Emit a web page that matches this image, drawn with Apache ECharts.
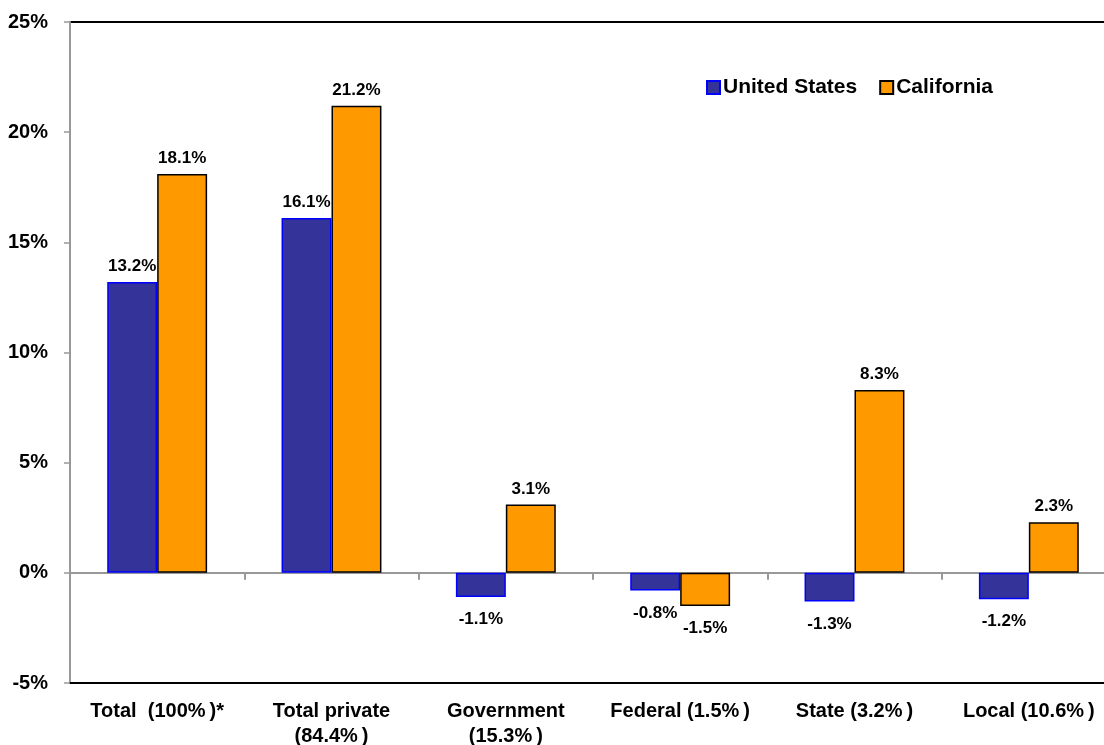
<!DOCTYPE html>
<html>
<head>
<meta charset="utf-8">
<script src="https://cdn.jsdelivr.net/npm/echarts@6/dist/echarts.min.js"></script>
<style>html,body{margin:0;padding:0;background:#fff;}#c{width:1104px;height:745px;}</style>
</head>
<body>
<div id="c"></div>
<script>
var categories = ['Total  (100%\u2009)*', 'Total private\n(84.4%\u2009)', 'Government\n(15.3%\u2009)', 'Federal (1.5%\u2009)', 'State (3.2%\u2009)', 'Local (10.6%\u2009)'];
var seriesNames = ['United States', 'California'];
var usValues = [13.2, 16.1, -1.1, -0.8, -1.3, -1.2];
var caValues = [18.1, 21.2, 3.1, -1.5, 8.3, 2.3];
var yTicks = {min: -5, max: 25, interval: 5};

var FONT = 'Arial, "Liberation Sans", sans-serif';

function toData(arr) {
  return arr.map(function (v) {
    return {value: v, label: {position: v < 0 ? 'bottom' : 'top', distance: v < 0 ? 14 : 7}};
  });
}
var labelCfg = {
  show: true, color: '#000', fontFamily: FONT, fontWeight: 'bold', fontSize: 17,
  formatter: function (p) { return p.value.toFixed(1) + '%'; }
};

var chart = echarts.init(document.getElementById('c'));
chart.setOption({
  animation: false,
  backgroundColor: '#fff',
  grid: {left: 70, width: 1046, top: 22, bottom: 62, containLabel: false, outerBoundsMode: 'none'},
  legend: {
    left: 701, top: 72, itemWidth: 13, itemHeight: 13, itemGap: 22, icon: 'rect',
    textStyle: {fontFamily: FONT, fontWeight: 'bold', fontSize: 21, color: '#000', padding: [0, 0, 0, -2]},
    data: seriesNames
  },
  xAxis: [{
    type: 'category', data: categories, position: 'bottom',
    axisLine: {onZero: false, lineStyle: {color: '#000', width: 2}},
    axisTick: {show: false},
    axisLabel: {interval: 0, fontFamily: FONT, fontWeight: 'bold', fontSize: 20, color: '#000', margin: 16, lineHeight: 25}
  }, {
    type: 'category', data: categories, position: 'top',
    axisLine: {onZero: true, lineStyle: {color: '#999', width: 2}},
    axisTick: {show: true, inside: true, length: 7, lineStyle: {color: '#999', width: 2}},
    axisLabel: {show: false}
  }],
  yAxis: {
    type: 'value', min: yTicks.min, max: yTicks.max, interval: yTicks.interval,
    axisLine: {show: true, lineStyle: {color: '#999', width: 2}},
    axisTick: {show: true, length: 6, lineStyle: {color: '#999', width: 1.5}},
    axisLabel: {fontFamily: FONT, fontWeight: 'bold', fontSize: 20, color: '#000', margin: 22,
      formatter: function (v) { return v + '%'; }},
    splitLine: {show: true, lineStyle: {width: 2, color: ['rgba(0,0,0,0)', 'rgba(0,0,0,0)', 'rgba(0,0,0,0)', 'rgba(0,0,0,0)', 'rgba(0,0,0,0)', 'rgba(0,0,0,0)', '#000']}}
  },
  series: [{
    name: seriesNames[0], type: 'bar', xAxisIndex: 0, data: toData(usValues),
    barGap: '0%', barCategoryGap: '42.7%',
    itemStyle: {color: '#333399', borderColor: '#0000ff', borderWidth: 1.5},
    label: labelCfg
  }, {
    name: seriesNames[1], type: 'bar', xAxisIndex: 0, data: toData(caValues),
    barGap: '0%', barCategoryGap: '42.7%',
    itemStyle: {color: '#ff9900', borderColor: '#000', borderWidth: 1.5},
    label: labelCfg
  }]
});
</script>
</body>
</html>
